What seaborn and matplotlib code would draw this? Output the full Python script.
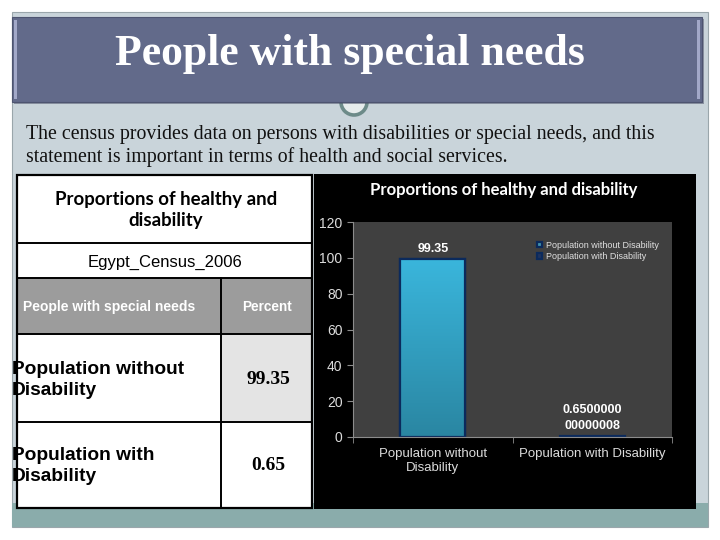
import numpy as np
import pandas as pd
import seaborn as sns
import matplotlib.pyplot as plt
from matplotlib.patches import Rectangle, Circle
from matplotlib.colors import LinearSegmentedColormap

# chart data
groups = ["Population without Disability", "Population with Disability"]
tick_names = ["Population without\nDisability", "Population with Disability"]
percent = [99.35, 0.65]
bar_texts = ["99.35", "0.6500000\n00000008"]
y_ticks = [0, 20, 40, 60, 80, 100, 120]

# table contents
table_rows = ["Population without\nDisability", "Population with\nDisability"]
table_vals = ["99.35", "0.65"]
col_heads = ["People with special needs", "Percent"]
table_title = "Proportions of healthy and\ndisability"
source_name = "Egypt_Census_2006"

slide_title = "People with special needs"
intro_lines = ["The census provides data on persons with disabilities or special needs, and this",
               "statement is important in terms of health and social services."]
chart_title = "Proportions of healthy and disability"

df = pd.DataFrame({"group": groups, "percent": percent})

plt.rcParams["font.family"] = ["Liberation Sans", "DejaVu Sans"]

fig = plt.figure(figsize=(7.2, 5.4), dpi=100)
fig.patch.set_facecolor("white")

# background axes in pixel units for the slide decoration
bg = fig.add_axes([0, 0, 1, 1])
bg.set_xlim(0, 720)
bg.set_ylim(540, 0)
bg.axis("off")

bg.add_patch(Rectangle((12, 12), 696, 515, fc="#c9d4da", ec="#9aa6ab", lw=0.8))
bg.add_patch(Rectangle((12, 503), 696, 24, fc="#8aacab", ec="none"))
bg.add_patch(Circle((354, 102), 13, fc="#e6ecec", ec="#6d8b89", lw=2.6))

# title bar
bg.add_patch(Rectangle((14, 19), 690, 85, fc="#4a5068", ec="none", alpha=0.5))
bg.add_patch(Rectangle((12, 17), 690, 85, fc="#626a8a", ec="#4d5470", lw=0.8))
bg.add_patch(Rectangle((14, 20), 3, 79, fc="#a2a8c8", ec="none"))
bg.add_patch(Rectangle((697, 20), 3, 79, fc="#a2a8c8", ec="none"))
bg.text(350, 54, slide_title, color="white", fontsize=31.5, fontweight="bold",
        family="Liberation Serif", ha="center", va="center")

for i, line in enumerate(intro_lines):
    bg.text(26, 135 + 22 * i, line, fontsize=14.3, family="Liberation Serif",
            color="#111111", ha="left", va="center")

# table on the left
bg.add_patch(Rectangle((17, 278), 295, 56, fc="#9c9c9c", ec="none"))
bg.add_patch(Rectangle((17, 175), 295, 103, fc="white", ec="none"))
bg.add_patch(Rectangle((17, 334), 295, 174, fc="white", ec="none"))
bg.add_patch(Rectangle((221, 334), 91, 88, fc="#e4e4e4", ec="none"))
bg.add_patch(Rectangle((17, 175), 295, 333, fill=False, ec="black", lw=1.6))
for yy in [243, 278, 334, 422]:
    bg.plot([17, 312], [yy, yy], color="black", lw=1.4)
bg.plot([221, 221], [278, 508], color="black", lw=1.4)

bg.text(166, 210, table_title, fontsize=13.4, fontweight="bold", family="Lato",
        ha="center", va="center", linespacing=1.3)
bg.text(165, 262, source_name, fontsize=12, ha="center", va="center")
bg.text(109, 307, col_heads[0], fontsize=10, fontweight="bold", color="white",
        ha="center", va="center")
bg.text(267, 307, col_heads[1], fontsize=9.8, fontweight="bold", color="white",
        ha="center", va="center")
for i, (lab, val) in enumerate(zip(table_rows, table_vals)):
    yc = 380 + 86 * i
    bg.text(12, yc, lab, fontsize=13.8, fontweight="bold", ha="left", va="center",
            linespacing=1.25)
    bg.text(268, yc, val, fontsize=14, fontweight="bold", family="Liberation Serif",
            ha="center", va="center")

# black chart panel
bg.add_patch(Rectangle((314, 174), 382, 335, fc="black", ec="none"))
bg.text(504, 190, chart_title, color="white", fontsize=12, fontweight="bold",
        family="Lato", ha="center", va="center")

# bar chart
ax = fig.add_axes([353 / 720, 1 - 437 / 540, 319 / 720, 215 / 540])
ax.set_facecolor("#404040")
sns.barplot(data=df, x="group", y="percent", hue="group",
            palette=["#2f9cc0", "#14306a"], width=0.41,
            edgecolor="#0b2a5c", linewidth=1.6, ax=ax, legend=True)

# gradient fill for the tall bar
bar = ax.patches[0]
x0, y0, w, h = bar.get_x(), bar.get_y(), bar.get_width(), bar.get_height()
grad = np.linspace(0, 1, 256).reshape(-1, 1)
cmap = LinearSegmentedColormap.from_list("bar", ["#2a86a2", "#3ab6dc"])
im = ax.imshow(grad, extent=[x0, x0 + w, y0, y0 + h], origin="lower", cmap=cmap,
               aspect="auto", zorder=bar.get_zorder() + 0.1)
im.set_clip_path(bar)
ax.add_patch(Rectangle((x0, y0), w, h, fill=False, ec="#0b2a5c", lw=1.6,
                       zorder=bar.get_zorder() + 0.2))

for cont, txt in zip(ax.containers, bar_texts):
    ax.bar_label(cont, labels=[txt], padding=3, color="white", fontsize=9,
                 fontweight="bold", linespacing=1.4)

ax.set_xlim(-0.5, 1.5)
ax.set_ylim(0, 120)
ax.set_yticks(y_ticks)
ax.set_xticks(range(len(tick_names)))
ax.set_xticklabels(tick_names)
ax.set_xticks([-0.5, 0.5, 1.5], minor=True)
ax.set_xlabel("")
ax.set_ylabel("")
ax.tick_params(axis="y", colors="#8c8c8c", labelcolor="#dcdcdc", labelsize=10, length=4)
ax.tick_params(axis="x", which="major", length=0, labelcolor="#dcdcdc", labelsize=9.5, pad=8)
ax.tick_params(axis="x", which="minor", length=4, color="#8c8c8c")
for s in ["top", "right"]:
    ax.spines[s].set_visible(False)
for s in ["left", "bottom"]:
    ax.spines[s].set_color("#8c8c8c")

ax.legend(loc="upper left", bbox_to_anchor=(0.565, 0.93), fontsize=6.5, frameon=False,
          labelcolor="#e0e0e0", handlelength=0.6, handleheight=0.6,
          handletextpad=0.4, labelspacing=0.25, borderaxespad=0)

fig.savefig("out.png", dpi=100)
